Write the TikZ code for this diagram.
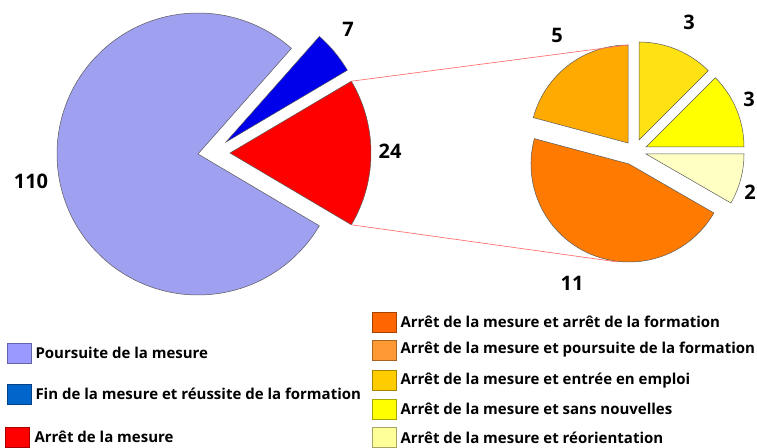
\documentclass[tikz,border=0pt]{standalone}
\usepackage{fontspec}
\setmainfont{Open Sans}
\usetikzlibrary{positioning}
\definecolor{lavanda}{RGB}{160,160,240}
\definecolor{blu}{RGB}{0,0,235}
\definecolor{rosso}{RGB}{255,0,0}
\definecolor{arancioscuro}{RGB}{255,122,0}
\definecolor{arancio}{RGB}{255,170,0}
\definecolor{oro}{RGB}{255,226,20}
\definecolor{giallo}{RGB}{255,255,0}
\definecolor{paglia}{RGB}{255,255,196}
\definecolor{legLavanda}{RGB}{153,153,255}
\definecolor{legBlu}{RGB}{0,102,204}
\definecolor{legArancioscuro}{RGB}{255,102,0}
\definecolor{legArancio}{RGB}{255,153,51}
\definecolor{legOro}{RGB}{255,204,0}
\definecolor{legPaglia}{RGB}{255,255,153}
\begin{document}
\begin{tikzpicture}[x=1pt, y=1pt,
	fetta/.style={draw=black!65, line width=0.5pt},
	numero/.style={font=\bfseries\fontsize{20}{20}\selectfont, inner sep=0pt},
	quadrato/.style={fill=#1, draw=#1!65!black, line width=0.6pt, minimum width=24pt, minimum height=20pt, inner sep=0pt},
	voce/.style={font=\bfseries\fontsize{15}{15}\selectfont, inner sep=0pt, anchor=west}]
	\useasboundingbox (0, 0) rectangle (757, 447);
	% torta principale
	\draw[fetta, fill=lavanda] (198, 293) -- ++(48.5:141) arc[start angle=48.5, end angle=329.4, radius=141] -- cycle;
	\draw[fetta, fill=blu] (226, 305) -- ++(30.6:141) arc[start angle=30.6, end angle=48.5, radius=141] -- cycle;
	\draw[fetta, fill=rosso] (230, 294) -- ++(-30.6:141) arc[start angle=-30.6, end angle=30.6, radius=141] -- cycle;
	% torta di dettaglio
	\draw[fetta, fill=arancio] (628, 304) -- ++(90:98) arc[start angle=90, end angle=165, radius=98] -- cycle;
	\draw[fetta, fill=oro] (639, 307) -- ++(45:98) arc[start angle=45, end angle=90, radius=98] -- cycle;
	\draw[fetta, fill=giallo] (646, 300) -- ++(0:98) arc[start angle=0, end angle=45, radius=98] -- cycle;
	\draw[fetta, fill=paglia] (646, 293) -- ++(-30:98) arc[start angle=-30, end angle=0, radius=98] -- cycle;
	\draw[fetta, fill=arancioscuro] (629, 283) -- ++(165:98) arc[start angle=165, end angle=330, radius=98] -- cycle;
	% collegamenti
	\coordinate (rossoAlto) at (351.4, 365.8);
	\coordinate (rossoBasso) at (351.4, 222.2);
	\coordinate (dettaglioAlto) at (628, 402);
	\coordinate (dettaglioBasso) at (618, 185);
	\draw[red!55, line width=0.7pt] (rossoAlto) -- (dettaglioAlto);
	\draw[red!55, line width=0.7pt] (rossoBasso) -- (dettaglioBasso);
	% valori
	\node[numero] (n110) at (31, 266) {110};
	\node[numero] (n7) at (348, 418) {7};
	\node[numero] (n24) at (390, 296) {24};
	\node[numero] (n5) at (557, 412) {5};
	\node[numero] (n3a) at (689, 425) {3};
	\node[numero] (n3b) at (749, 348) {3};
	\node[numero] (n2) at (750, 255) {2};
	\node[numero] (n11) at (572, 164) {11};
	% legenda sinistra
	\node[quadrato=legLavanda] (qPoursuite) at (19, 94) {};
	\node[voce, right=4pt of qPoursuite] (tPoursuite) {Poursuite de la mesure};
	\node[quadrato=legBlu] (qFin) at (19, 53) {};
	\node[voce, right=4pt of qFin] (tFin) {Fin de la mesure et réussite de la formation};
	\node[quadrato=rosso] (qArret) at (17, 10) {};
	\node[voce, right=5pt of qArret] (tArret) {Arrêt de la mesure};
	% legenda destra
	\node[quadrato=legArancioscuro] (qFormation) at (384, 125) {};
	\node[voce, right=4pt of qFormation] (tFormation) {Arrêt de la mesure et arrêt de la formation};
	\node[quadrato=legArancio] (qPoursuiteF) at (384, 97) {};
	\node[voce, right=4pt of qPoursuiteF] (tPoursuiteF) {Arrêt de la mesure et poursuite de la formation};
	\node[quadrato=legOro] (qEmploi) at (384, 66.5) {};
	\node[voce, right=4pt of qEmploi] (tEmploi) {Arrêt de la mesure et entrée en emploi};
	\node[quadrato=giallo] (qNouvelles) at (384, 38) {};
	\node[voce, right=4pt of qNouvelles] (tNouvelles) {Arrêt de la mesure et sans nouvelles};
	\node[quadrato=legPaglia] (qReorient) at (384, 9.5) {};
	\node[voce, right=4pt of qReorient] (tReorient) {Arrêt de la mesure et réorientation};
\end{tikzpicture}
\end{document}
